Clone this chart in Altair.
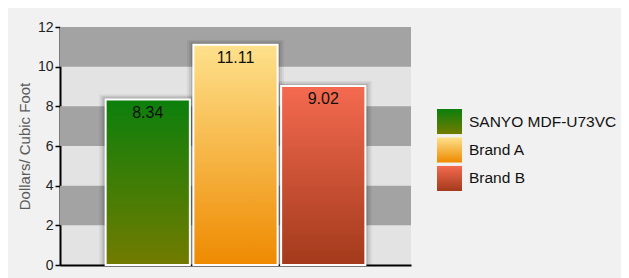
import altair as alt
import pandas as pd

categories = ["SANYO MDF-U73VC", "Brand A", "Brand B"]
values = [8.34, 11.11, 9.02]
y_ticks = [0, 2, 4, 6, 8, 10, 12]
dark_band_start = [10, 6, 2]
dark_band_end = [12, 8, 4]

grad_top = ["#0c7f0c", "#fee18c", "#f46a50"]
grad_bottom = ["#727b00", "#ee8a00", "#a33a1b"]

df = pd.DataFrame({"cat": categories, "val": values})
bands = pd.DataFrame({"s": dark_band_start, "e": dark_band_end})

FONT = "Liberation Sans"

x_enc = alt.X("cat:N", sort=categories,
              scale=alt.Scale(domain=categories, paddingInner=0.04, paddingOuter=0.52),
              axis=alt.Axis(title=None, labels=False, ticks=False, domainColor="black",
                            domainWidth=2))
y_scale = alt.Scale(domain=[0, 12], nice=False)
y_axis = alt.Axis(values=y_ticks, tickCount=7, labelOverlap=False,
                  title="Dollars/ Cubic Foot", grid=False,
                  domainColor="black", domainWidth=2, tickColor="black",
                  tickWidth=1.5, tickSize=5, labelFont=FONT, labelFontSize=14,
                  labelColor="#222", labelPadding=2, titleFont=FONT,
                  titleFontSize=15, titleFontWeight="normal", titleColor="#5a5a5a",
                  titlePadding=5)

stripes = alt.Chart(bands).mark_rect(color="#a3a3a3").encode(
    y=alt.Y("s:Q", scale=y_scale, axis=y_axis),
    y2="e:Q",
)

def grad(i):
    return alt.Gradient(gradient="linear",
                        stops=[alt.GradientStop(color=grad_top[i], offset=0),
                               alt.GradientStop(color=grad_bottom[i], offset=1)],
                        x1=0, x2=0, y1=0, y2=1)

shadows = []
for k, (w, op, yo) in enumerate([(1.15, 0.06, -5), (1.10, 0.08, -3.5), (1.055, 0.12, -2)]):
    shadows.append(
        alt.Chart(df).mark_bar(color="black", opacity=op, width=alt.RelativeBandSize(w),
                               yOffset=yo).encode(
            x=x_enc, y=alt.Y("val:Q", scale=y_scale, axis=y_axis), y2=alt.datum(0))
    )

bars = []
for i, c in enumerate(categories):
    bars.append(
        alt.Chart(df).transform_filter(alt.datum.cat == c).mark_bar(
            fill=grad(i), stroke="white", strokeWidth=2).encode(
            x=x_enc, y=alt.Y("val:Q", scale=y_scale, axis=y_axis))
    )

labels = alt.Chart(df).mark_text(baseline="top", dy=5, font=FONT, fontSize=16,
                                 color="#111").encode(
    x=x_enc, y=alt.Y("val:Q", scale=y_scale, axis=y_axis),
    text=alt.Text("val:Q", format=".2f"))

main = alt.layer(stripes, *shadows, *bars, labels).properties(
    width=351, height=238, view=alt.ViewBackground(fill="#e3e3e3", stroke=None))

leg_scale = alt.Scale(domain=categories, range=[82, 164], paddingInner=0.12,
                      paddingOuter=0)
leg_rects = []
for i, c in enumerate(categories):
    leg_rects.append(
        alt.Chart(df).transform_filter(alt.datum.cat == c).mark_rect(fill=grad(i)).encode(
            y=alt.Y("cat:N", sort=categories, scale=leg_scale, axis=None),
            x=alt.value(0), x2=alt.value(25))
    )
leg_text = alt.Chart(df).mark_text(align="left", baseline="middle", font=FONT,
                                   fontSize=15.5, color="#111").encode(
    y=alt.Y("cat:N", sort=categories, scale=leg_scale, bandPosition=0.5, axis=None),
    x=alt.value(32), text="cat:N")
legend = alt.layer(*leg_rects, leg_text).properties(
    width=178, height=238, view=alt.ViewBackground(fill=None, stroke=None))

chart = alt.hconcat(main, legend, spacing=26).properties(
    background="#f1f1f1",
    padding={"left": 9, "top": 12, "right": 4, "bottom": 10},
).resolve_scale(y="independent")

chart.save("out.html", embed_options={"renderer": "svg", "actions": False})
